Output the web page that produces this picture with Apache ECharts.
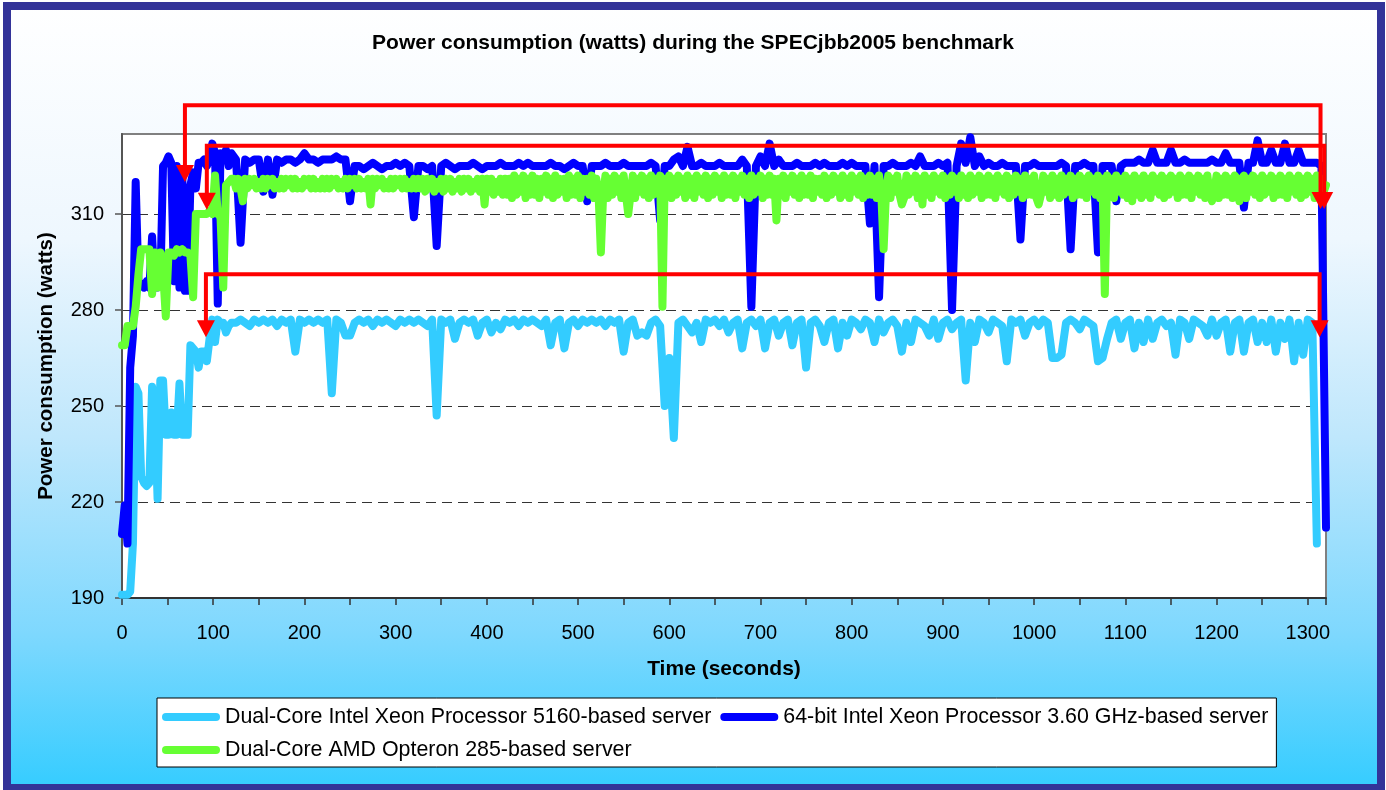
<!DOCTYPE html>
<html>
<head>
<meta charset="utf-8">
<title>Power consumption during the SPECjbb2005 benchmark</title>
<script src="https://cdn.jsdelivr.net/npm/echarts@6/dist/echarts.min.js"></script>
<style>
  html, body { margin: 0; padding: 0; background: #fff; }
  #main { width: 1386px; height: 790px; }
</style>
</head>
<body>
<div id="main"></div>
<script>
// sample times (seconds) for the two Xeon servers
var secs = [
  0, 3, 6, 9, 12, 15, 18, 21, 24, 27, 30, 33, 36, 39, 42, 45, 48, 51, 54, 57,
  60, 63, 66, 69, 72, 75, 78, 81, 84, 87, 90, 93, 96, 99, 102, 105, 108, 111, 114, 117, 120,
  125, 130, 135, 140, 145, 150, 155, 160, 165, 170, 175, 180, 185, 190, 195, 200, 205, 210, 215, 220,
  225, 230, 235, 240, 245, 250, 255, 260, 265, 270, 275, 280, 285, 290, 295, 300, 305, 310, 315, 320,
  325, 330, 335, 340, 345, 350, 355, 360, 365, 370, 375, 380, 385, 390, 395, 400, 405, 410, 415, 420,
  425, 430, 435, 440, 445, 450, 455, 460, 465, 470, 475, 480, 485, 490, 495, 500, 505, 510, 515, 520,
  525, 530, 535, 540, 545, 550, 555, 560, 565, 570, 575, 580, 585, 590, 595, 600, 605, 610, 615, 620,
  625, 630, 635, 640, 645, 650, 655, 660, 665, 670, 675, 680, 685, 690, 695, 700, 705, 710, 715, 720,
  725, 730, 735, 740, 745, 750, 755, 760, 765, 770, 775, 780, 785, 790, 795, 800, 805, 810, 815, 820,
  825, 830, 835, 840, 845, 850, 855, 860, 865, 870, 875, 880, 885, 890, 895, 900, 905, 910, 915, 920,
  925, 930, 935, 940, 945, 950, 955, 960, 965, 970, 975, 980, 985, 990, 995, 1000, 1005, 1010, 1015, 1020,
  1025, 1030, 1035, 1040, 1045, 1050, 1055, 1060, 1065, 1070, 1075, 1080, 1085, 1090, 1095, 1100, 1105, 1110, 1115, 1120,
  1125, 1130, 1135, 1140, 1145, 1150, 1155, 1160, 1165, 1170, 1175, 1180, 1185, 1190, 1195, 1200, 1205, 1210, 1215, 1220,
  1225, 1230, 1235, 1240, 1245, 1250, 1255, 1260, 1265, 1270, 1275, 1280, 1285, 1290, 1295, 1300, 1305, 1310, 1315, 1320
];

// sample times (seconds) for the Opteron server, denser because its trace is noisier
var opteronSecs = [
  0, 3, 6, 9, 12, 15, 18, 21, 24, 27, 30, 33, 36, 39, 42, 45, 48, 51, 54, 57,
  60, 63, 66, 69, 72, 75, 78, 81, 84, 87, 90, 93, 96, 99, 102, 105, 108, 111, 114, 117, 120,
  122.5, 125, 127.5, 130, 132.5, 135, 137.5, 140, 142.5, 145, 147.5, 150, 152.5, 155, 157.5, 160, 162.5, 165, 167.5, 170,
  172.5, 175, 177.5, 180, 182.5, 185, 187.5, 190, 192.5, 195, 197.5, 200, 202.5, 205, 207.5, 210, 212.5, 215, 217.5, 220,
  222.5, 225, 227.5, 230, 232.5, 235, 237.5, 240, 242.5, 245, 247.5, 250, 252.5, 255, 257.5, 260, 262.5, 265, 267.5, 270,
  272.5, 275, 277.5, 280, 282.5, 285, 287.5, 290, 292.5, 295, 297.5, 300, 302.5, 305, 307.5, 310, 312.5, 315, 317.5, 320,
  322.5, 325, 327.5, 330, 332.5, 335, 337.5, 340, 342.5, 345, 347.5, 350, 352.5, 355, 357.5, 360, 362.5, 365, 367.5, 370,
  372.5, 375, 377.5, 380, 382.5, 385, 387.5, 390, 392.5, 395, 397.5, 400, 402.5, 405, 407.5, 410, 412.5, 415, 417.5, 420,
  422.5, 425, 427.5, 430, 432.5, 435, 437.5, 440, 442.5, 445, 447.5, 450, 452.5, 455, 457.5, 460, 462.5, 465, 467.5, 470,
  472.5, 475, 477.5, 480, 482.5, 485, 487.5, 490, 492.5, 495, 497.5, 500, 502.5, 505, 507.5, 510, 512.5, 515, 517.5, 520,
  522.5, 525, 527.5, 530, 532.5, 535, 537.5, 540, 542.5, 545, 547.5, 550, 552.5, 555, 557.5, 560, 562.5, 565, 567.5, 570,
  572.5, 575, 577.5, 580, 582.5, 585, 587.5, 590, 592.5, 595, 597.5, 600, 602.5, 605, 607.5, 610, 612.5, 615, 617.5, 620,
  622.5, 625, 627.5, 630, 632.5, 635, 637.5, 640, 642.5, 645, 647.5, 650, 652.5, 655, 657.5, 660, 662.5, 665, 667.5, 670,
  672.5, 675, 677.5, 680, 682.5, 685, 687.5, 690, 692.5, 695, 697.5, 700, 702.5, 705, 707.5, 710, 712.5, 715, 717.5, 720,
  722.5, 725, 727.5, 730, 732.5, 735, 737.5, 740, 742.5, 745, 747.5, 750, 752.5, 755, 757.5, 760, 762.5, 765, 767.5, 770,
  772.5, 775, 777.5, 780, 782.5, 785, 787.5, 790, 792.5, 795, 797.5, 800, 802.5, 805, 807.5, 810, 812.5, 815, 817.5, 820,
  822.5, 825, 827.5, 830, 832.5, 835, 837.5, 840, 842.5, 845, 847.5, 850, 852.5, 855, 857.5, 860, 862.5, 865, 867.5, 870,
  872.5, 875, 877.5, 880, 882.5, 885, 887.5, 890, 892.5, 895, 897.5, 900, 902.5, 905, 907.5, 910, 912.5, 915, 917.5, 920,
  922.5, 925, 927.5, 930, 932.5, 935, 937.5, 940, 942.5, 945, 947.5, 950, 952.5, 955, 957.5, 960, 962.5, 965, 967.5, 970,
  972.5, 975, 977.5, 980, 982.5, 985, 987.5, 990, 992.5, 995, 997.5, 1000, 1002.5, 1005, 1007.5, 1010, 1012.5, 1015, 1017.5, 1020,
  1022.5, 1025, 1027.5, 1030, 1032.5, 1035, 1037.5, 1040, 1042.5, 1045, 1047.5, 1050, 1052.5, 1055, 1057.5, 1060, 1062.5, 1065, 1067.5, 1070,
  1072.5, 1075, 1077.5, 1080, 1082.5, 1085, 1087.5, 1090, 1092.5, 1095, 1097.5, 1100, 1102.5, 1105, 1107.5, 1110, 1112.5, 1115, 1117.5, 1120,
  1122.5, 1125, 1127.5, 1130, 1132.5, 1135, 1137.5, 1140, 1142.5, 1145, 1147.5, 1150, 1152.5, 1155, 1157.5, 1160, 1162.5, 1165, 1167.5, 1170,
  1172.5, 1175, 1177.5, 1180, 1182.5, 1185, 1187.5, 1190, 1192.5, 1195, 1197.5, 1200, 1202.5, 1205, 1207.5, 1210, 1212.5, 1215, 1217.5, 1220,
  1222.5, 1225, 1227.5, 1230, 1232.5, 1235, 1237.5, 1240, 1242.5, 1245, 1247.5, 1250, 1252.5, 1255, 1257.5, 1260, 1262.5, 1265, 1267.5, 1270,
  1272.5, 1275, 1277.5, 1280, 1282.5, 1285, 1287.5, 1290, 1292.5, 1295, 1297.5, 1300, 1302.5, 1305, 1307.5, 1310, 1312.5, 1315, 1317.5, 1320
];

// Dual-Core Intel Xeon 5160 (watts)
var xeon5160 = [
  191, 191, 191, 192, 207, 256, 254, 228, 226, 225, 226, 256, 248, 221, 258, 258, 241, 241, 248, 241,
  241, 257, 241, 241, 241, 269, 268, 267, 262, 267, 267, 264, 271, 277, 270, 277, 276, 276, 273, 275, 276,
  276, 277, 276, 275, 277, 276, 277, 276, 277, 275, 277, 276, 277, 267, 277, 276, 277, 276, 277, 276,
  277, 254, 277, 276, 272, 272, 276, 277, 276, 277, 275, 277, 276, 277, 276, 275, 277, 276, 277, 276,
  277, 276, 275, 277, 247, 277, 276, 277, 271, 276, 277, 276, 277, 272, 276, 277, 273, 276, 274, 277,
  276, 277, 275, 277, 276, 277, 276, 275, 277, 269, 276, 277, 268, 276, 277, 275, 277, 276, 277, 276,
  277, 275, 277, 276, 277, 267, 276, 277, 272, 273, 272, 276, 277, 275, 250, 265, 240, 276, 277, 275,
  273, 276, 270, 277, 276, 277, 275, 277, 273, 276, 277, 268, 276, 277, 275, 277, 268, 276, 277, 272,
  276, 277, 269, 276, 277, 262, 276, 277, 275, 270, 276, 277, 268, 276, 272, 277, 276, 274, 277, 276,
  270, 277, 273, 276, 277, 275, 267, 276, 270, 277, 276, 275, 272, 277, 271, 276, 277, 274, 276, 277,
  258, 276, 270, 277, 276, 273, 277, 276, 275, 264, 277, 276, 277, 272, 276, 277, 275, 277, 276, 265,
  265, 266, 276, 277, 276, 274, 277, 276, 275, 264, 265, 271, 276, 277, 271, 276, 277, 268, 276, 270,
  277, 271, 276, 277, 275, 276, 266, 277, 276, 271, 277, 276, 275, 272, 277, 272, 276, 277, 267, 276,
  277, 267, 276, 277, 270, 276, 270, 277, 267, 276, 271, 277, 264, 276, 266, 277, 276, 207, null, null
];

// 64-bit Intel Xeon 3.60 GHz (watts)
var xeon360 = [
  210, 219, 207, 262, 272, 320, 289, 288, 287, 289, 287, 303, 287, 287, 288, 325, 326, 328, 326, 289,
  325, 287, 323, 286, 286, 319, 323, 318, 326, 326, 327, 325, 327, 332, 329, 282, 329, 328, 330, 325, 329,
  327, 301, 327, 326, 327, 327, 317, 327, 316, 327, 326, 327, 327, 326, 327, 329, 327, 327, 326, 327,
  327, 327, 328, 327, 327, 314, 325, 325, 324, 325, 326, 325, 324, 325, 325, 326, 325, 326, 325, 309,
  325, 325, 324, 325, 300, 325, 326, 325, 324, 325, 325, 325, 326, 325, 324, 325, 325, 325, 326, 325,
  325, 325, 326, 325, 326, 325, 325, 325, 325, 326, 325, 325, 324, 325, 326, 325, 325, 314, 325, 325,
  325, 326, 325, 325, 325, 326, 325, 325, 325, 325, 325, 326, 325, 308, 325, 325, 327, 328, 325, 331,
  325, 325, 326, 325, 325, 325, 326, 325, 325, 325, 325, 327, 325, 281, 325, 328, 325, 332, 325, 327,
  325, 325, 325, 326, 325, 325, 325, 326, 325, 326, 325, 325, 325, 326, 325, 326, 325, 325, 325, 307,
  325, 284, 325, 325, 326, 325, 325, 325, 326, 325, 328, 325, 325, 325, 326, 325, 326, 280, 325, 332,
  326, 334, 325, 328, 325, 326, 325, 325, 326, 325, 325, 325, 302, 325, 325, 326, 325, 325, 325, 325,
  325, 326, 325, 299, 325, 325, 326, 325, 325, 298, 325, 325, 325, 314, 325, 326, 326, 326, 327, 326,
  326, 330, 326, 326, 326, 330, 326, 326, 327, 326, 326, 326, 326, 326, 327, 326, 326, 329, 326, 326,
  326, 312, 326, 326, 333, 326, 326, 330, 326, 326, 332, 326, 326, 330, 326, 326, 326, 326, 325, 212
];

// Dual-Core AMD Opteron 285 (watts), matches opteronSecs
var opteron285 = [
  269, 269, 275, 275, 275, 281, 291, 299, 299, 299, 299, 285, 298, 287, 298, 292, 278, 298, 298, 297,
  299, 298, 299, 298, 298, 297, 284, 310, 310, 310, 310, 310, 311, 310, 322, 310, 309, 287, 319, 320, 321,
  321, 318, 321, 318, 314, 321, 318, 321, 319, 321, 318, 320, 318, 321, 318, 321, 319, 321, 318, 320,
  318, 321, 318, 321, 319, 321, 318, 321, 318, 320, 318, 321, 319, 321, 318, 321, 318, 320, 318, 321,
  318, 321, 318, 321, 319, 321, 318, 320, 318, 321, 318, 321, 319, 321, 318, 321, 318, 320, 318, 321,
  313, 321, 318, 321, 319, 321, 318, 320, 318, 321, 318, 321, 319, 321, 318, 321, 318, 320, 318, 321,
  318, 321, 318, 321, 317, 321, 318, 321, 317, 320, 318, 321, 317, 321, 318, 321, 317, 320, 318, 321,
  317, 321, 318, 321, 317, 320, 318, 321, 317, 321, 313, 321, 317, 321, 316, 320, 317, 321, 316, 321,
  316, 321, 315, 322, 316, 321, 317, 322, 315, 321, 316, 322, 316, 321, 315, 321, 317, 322, 316, 321,
  315, 322, 316, 321, 317, 321, 315, 322, 316, 321, 316, 322, 315, 321, 317, 321, 316, 322, 315, 321,
  316, 298, 316, 322, 315, 321, 316, 322, 317, 321, 315, 322, 316, 310, 316, 322, 315, 321, 317, 322,
  316, 321, 315, 322, 316, 321, 317, 322, 281, 321, 316, 322, 315, 321, 316, 322, 317, 321, 315, 322,
  316, 321, 315, 322, 317, 321, 316, 322, 315, 321, 316, 322, 317, 321, 315, 322, 316, 321, 316, 322,
  315, 321, 317, 322, 316, 321, 315, 322, 316, 321, 317, 322, 315, 321, 316, 322, 316, 321, 308, 321,
  316, 322, 315, 321, 317, 322, 316, 321, 315, 322, 316, 321, 316, 322, 315, 321, 317, 321, 316, 322,
  315, 321, 316, 322, 317, 321, 315, 322, 316, 321, 315, 322, 317, 321, 316, 322, 315, 321, 316, 322,
  316, 321, 315, 322, 316, 299, 316, 322, 315, 321, 317, 322, 316, 313, 315, 322, 316, 321, 317, 322,
  315, 321, 313, 322, 316, 321, 315, 322, 317, 321, 316, 322, 315, 321, 316, 322, 317, 321, 315, 322,
  316, 321, 315, 322, 316, 321, 317, 322, 315, 321, 316, 322, 316, 321, 315, 322, 317, 321, 316, 322,
  315, 321, 316, 322, 317, 321, 315, 322, 316, 321, 316, 322, 315, 313, 316, 322, 317, 321, 315, 322,
  316, 321, 315, 322, 316, 321, 317, 322, 315, 321, 316, 322, 316, 321, 315, 322, 317, 321, 316, 322,
  315, 321, 285, 322, 316, 321, 315, 322, 317, 321, 316, 322, 315, 321, 314, 322, 316, 321, 315, 322,
  316, 321, 315, 322, 317, 321, 316, 322, 315, 321, 316, 322, 317, 321, 315, 322, 316, 321, 316, 322,
  315, 321, 317, 322, 316, 321, 315, 322, 316, 314, 317, 322, 315, 321, 316, 322, 316, 321, 315, 322,
  321, 314, 321, 322, 315, 321, 317, 322, 316, 321, 315, 322, 316, 321, 317, 322, 315, 321, 316, 322,
  316, 321, 315, 322, 317, 321, 316, 322, 315, 321, 316, 322, 317, 321, 315, 322, 316, 321, 317, 319
];

var seriesNames = [
  'Dual-Core Intel Xeon Processor 5160-based server',
  '64-bit Intel Xeon Processor 3.60 GHz-based server',
  'Dual-Core AMD Opteron 285-based server'
];
var seriesColors = ['#33CCFF', '#0000FF', '#66FF33'];

// red annotation brackets in data units; first and last points are the arrow tips
var arrowTop = [[69, 320.0], [69, 344.0], [1314, 344.0], [1314, 311.6]];
var arrowMid = [[93, 311.3], [93, 331.3], [1318, 331.3], [1318, 311.6]];
var arrowLow = [[92, 271.5], [92, 291.2], [1313, 291.2], [1313, 271.5]];

var font = 'Liberation Sans, Arial, sans-serif';

function pairs(times, vals) {
  return times.map(function (t, i) { return [t, vals[i]]; });
}

var bg = {
  id: 'bg',
  type: 'rect',
  silent: true,
  z: -10,
  shape: { x: 7, y: 6, width: 1374, height: 782 },
  style: {
    fill: new echarts.graphic.LinearGradient(0, 0, 0, 1, [
      { offset: 0, color: '#FFFFFF' },
      { offset: 0.3, color: '#EEF7FE' },
      { offset: 0.55, color: '#BFE7FC' },
      { offset: 0.8, color: '#7ED8FE' },
      { offset: 1, color: '#33CCFF' }
    ]),
    stroke: '#333399',
    lineWidth: 8
  }
};

var myChart = echarts.init(document.getElementById('main'));

var traces = [[secs, xeon5160], [secs, xeon360], [opteronSecs, opteron285]];
var lineSeries = traces.map(function (tr, i) {
  return {
    name: seriesNames[i],
    type: 'line',
    data: pairs(tr[0], tr[1]),
    showSymbol: false,
    symbol: 'none',
    silent: true,
    connectNulls: false,
    color: seriesColors[i],
    lineStyle: { width: 8, color: seriesColors[i], cap: 'round', join: 'round' }
  };
});

var option = {
  animation: false,
  graphic: [bg],
  title: {
    text: 'Power consumption (watts) during the SPECjbb2005 benchmark',
    left: 'center',
    top: 33,
    padding: 0,
    textStyle: { fontFamily: font, fontSize: 21, fontWeight: 'bold', color: '#000' }
  },
  legend: {
    left: 157,
    top: 698,
    width: 1112,
    padding: [7, 8, 5, 5],
    itemGap: 9,
    itemWidth: 58,
    itemHeight: 8,
    icon: 'path://M4,0L54,0A4,4,0,0,1,54,8L4,8A4,4,0,0,1,4,0Z',
    backgroundColor: '#FFFFFF',
    borderColor: '#000000',
    borderWidth: 1,
    borderRadius: 0,
    selectedMode: false,
    data: seriesNames,
    textStyle: { fontFamily: font, fontSize: 21.4, color: '#000', lineHeight: 24 }
  },
  grid: {
    left: 122,
    right: 60,
    top: 134,
    bottom: 192,
    show: true,
    backgroundColor: '#FFFFFF',
    borderColor: '#808080',
    borderWidth: 2
  },
  xAxis: {
    type: 'value',
    min: 0,
    max: 1320,
    interval: 50,
    name: 'Time (seconds)',
    nameLocation: 'middle',
    nameGap: 61,
    nameTextStyle: { fontFamily: font, fontSize: 21, fontWeight: 'bold', color: '#000' },
    axisLine: { show: true, lineStyle: { color: '#333', width: 2 } },
    axisTick: { show: true, inside: false, length: 7, lineStyle: { color: '#333', width: 1.5 } },
    axisLabel: {
      margin: 25,
      fontFamily: font,
      fontSize: 20,
      color: '#000',
      formatter: function (v) { return v % 100 === 0 ? String(v) : ''; }
    },
    splitLine: { show: false }
  },
  yAxis: {
    type: 'value',
    min: 190,
    max: 335,
    interval: 30,
    name: 'Power consumption (watts)',
    nameLocation: 'middle',
    nameGap: 65,
    nameTextStyle: { fontFamily: font, fontSize: 20.5, fontWeight: 'bold', color: '#000' },
    axisLine: { show: true, lineStyle: { color: '#555', width: 2 } },
    axisTick: { show: true, inside: false, length: 7, lineStyle: { color: '#555', width: 1.5 } },
    axisLabel: { margin: 18, fontFamily: font, fontSize: 20, color: '#000', showMaxLabel: false },
    splitLine: { show: true, showMaxLine: false, lineStyle: { color: '#333', width: 1, type: [10, 6] } }
  },
  series: lineSeries
};

myChart.setOption(option);

// draw the red arrows on top, placed through the axes
function arrowGraphics(pts, idx) {
  var px = pts.map(function (p) { return myChart.convertToPixel({ gridIndex: 0 }, p); });
  var n = px.length;
  var linePts = px.map(function (p) { return [p[0], p[1]]; });
  linePts[0][1] -= 12;
  linePts[n - 1][1] -= 12;
  var els = [{
    id: 'arrowLine' + idx,
    type: 'polyline',
    silent: true,
    z: 100,
    shape: { points: linePts },
    style: { stroke: '#FF0000', lineWidth: 4, fill: null, lineJoin: 'miter' }
  }];
  [px[0], px[n - 1]].forEach(function (tip, k) {
    els.push({
      id: 'arrowHead' + idx + '_' + k,
      type: 'polygon',
      silent: true,
      z: 101,
      shape: { points: [[tip[0] - 9, tip[1] - 17], [tip[0] + 9, tip[1] - 17], [tip[0], tip[1]]] },
      style: { fill: '#FF0000' }
    });
  });
  return els;
}

var arrowEls = [];
[arrowTop, arrowMid, arrowLow].forEach(function (a, i) {
  arrowEls = arrowEls.concat(arrowGraphics(a, i));
});
myChart.setOption({ graphic: [bg].concat(arrowEls) });
</script>
</body>
</html>
